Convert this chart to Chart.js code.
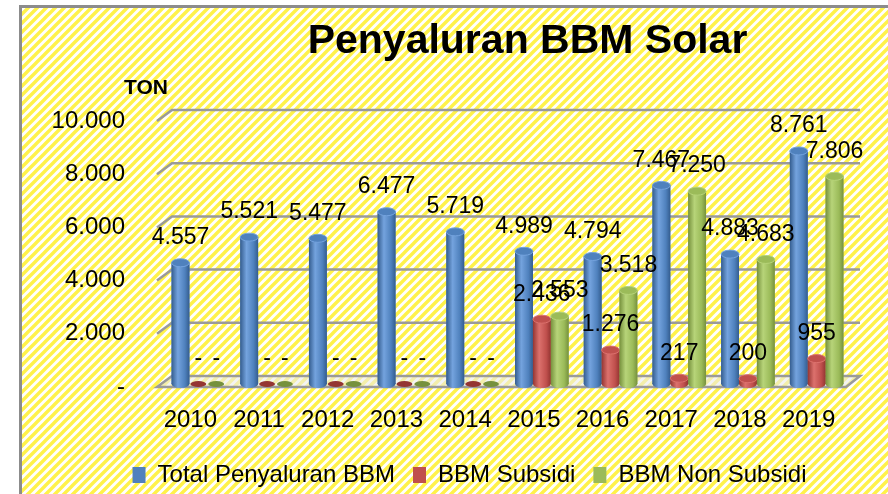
<!DOCTYPE html>
<html>
<head>
<meta charset="utf-8">
<script src="https://cdn.jsdelivr.net/npm/chart.js@4.4.1/dist/chart.umd.min.js"></script>
<style>
  html, body { margin: 0; padding: 0; background: #fff; }
  #wrap { width: 888px; height: 494px; }
</style>
</head>
<body>
<div id="wrap"><canvas id="bbmChart" width="888" height="494"></canvas></div>
<script>
const years = ['2010', '2011', '2012', '2013', '2014', '2015', '2016', '2017', '2018', '2019'];
const totalPenyaluran = [4557, 5521, 5477, 6477, 5719, 4989, 4794, 7467, 4883, 8761];
const bbmSubsidi = [0, 0, 0, 0, 0, 2436, 1276, 217, 200, 955];
const bbmNonSubsidi = [0, 0, 0, 0, 0, 2553, 3518, 7250, 4683, 7806];
const seriesNames = ['Total Penyaluran BBM', 'BBM Subsidi', 'BBM Non Subsidi'];
const yMax = 10000;
const yStep = 2000;

// base, dark edge, highlight
const barColors = [
    ['#4f81bd', '#345d8f', '#74a3de'],
    ['#c0504d', '#943532', '#dc716d'],
    ['#9bbb59', '#76913d', '#b7d479']
];

const FONT = "'Liberation Sans', Arial, sans-serif";

function fmt(v) {
    if (v === 0) return '-';
    return String(v).replace(/\B(?=(\d{3})+(?!\d))/g, '.');
}

function makeStripes(ctx) {
    const tile = document.createElement('canvas');
    tile.width = 9;
    tile.height = 9;
    const t = tile.getContext('2d');
    t.fillStyle = '#ffffff';
    t.fillRect(0, 0, 9, 9);
    t.strokeStyle = '#fff24a';
    t.lineWidth = 3.4;
    t.beginPath();
    t.moveTo(-2, 11); t.lineTo(11, -2);
    t.moveTo(-2, 2); t.lineTo(2, -2);
    t.moveTo(7, 11); t.lineTo(11, 7);
    t.stroke();
    return ctx.createPattern(tile, 'repeat');
}

const backgroundPlugin = {
    id: 'stripedBackground',
    afterLayout(chart) {
        // let the y tick labels reach past the left padding without clipping
        chart.scales.y.left = 30;
    },
    beforeDraw(chart) {
        const ctx = chart.ctx;
        ctx.save();
        ctx.fillStyle = '#ffffff';
        ctx.fillRect(0, 0, chart.width, chart.height);
        ctx.fillStyle = makeStripes(ctx);
        ctx.fillRect(19, 5, chart.width - 19, chart.height - 5);
        ctx.strokeStyle = '#8c8c8c';
        ctx.lineWidth = 3;
        ctx.beginPath();
        ctx.moveTo(20.5, chart.height);
        ctx.lineTo(20.5, 6.5);
        ctx.lineTo(chart.width, 6.5);
        ctx.stroke();
        ctx.restore();
    }
};

// back wall gridlines + floor, from the y scale
const wallPlugin = {
    id: 'wall3d',
    beforeDatasetsDraw(chart) {
        const ctx = chart.ctx;
        const area = chart.chartArea;
        const y = chart.scales.y;
        const base = y.getPixelForValue(0);
        ctx.save();
        ctx.strokeStyle = '#9a9a9a';
        ctx.lineWidth = 2.5;
        for (let v = yStep; v <= yMax; v += yStep) {
            const yb = y.getPixelForValue(v) - 8;
            ctx.beginPath();
            ctx.moveTo(area.left - 7, yb + 11);
            ctx.lineTo(area.left + 8, yb);
            ctx.lineTo(area.right + 9, yb);
            ctx.stroke();
        }
        ctx.beginPath();
        ctx.moveTo(area.left - 7, base + 3);
        ctx.lineTo(area.left + 8, base - 8);
        ctx.lineTo(area.right + 9, base - 8);
        ctx.lineTo(area.right - 5, base + 3);
        ctx.closePath();
        ctx.fillStyle = 'rgba(235,235,235,0.6)';
        ctx.fill();
        ctx.stroke();
        ctx.restore();
    }
};

const cylinderPlugin = {
    id: 'cylinders',
    afterDatasetsDraw(chart) {
        const ctx = chart.ctx;
        ctx.save();
        chart.data.datasets.forEach((ds, di) => {
            const meta = chart.getDatasetMeta(di);
            const [mid, dark, light] = barColors[di];
            meta.data.forEach(bar => {
                const p = bar.getProps(['x', 'y', 'base', 'width'], true);
                const x0 = p.x - p.width / 2;
                const x1 = p.x + p.width / 2;
                const g = ctx.createLinearGradient(x0, 0, x1, 0);
                g.addColorStop(0, dark);
                g.addColorStop(0.35, light);
                g.addColorStop(0.75, mid);
                g.addColorStop(1, dark);
                if (p.base - p.y > 1) {
                    ctx.fillStyle = g;
                    ctx.fillRect(x0, p.y, p.width, p.base - p.y);
                    ctx.beginPath();
                    ctx.ellipse(p.x, p.base, p.width / 2, 4, 0, 0, Math.PI * 2);
                    ctx.fill();
                    ctx.beginPath();
                    ctx.ellipse(p.x, p.y, p.width / 2, 4, 0, 0, Math.PI * 2);
                    ctx.fillStyle = mid;
                    ctx.fill();
                    ctx.strokeStyle = light;
                    ctx.lineWidth = 1;
                    ctx.stroke();
                } else {
                    ctx.beginPath();
                    ctx.ellipse(p.x, p.base, p.width / 2 - 1, 3, 0, 0, Math.PI * 2);
                    ctx.fillStyle = dark;
                    ctx.fill();
                }
            });
        });
        // value labels above each cylinder
        ctx.fillStyle = '#000';
        ctx.font = '23px ' + FONT;
        ctx.textAlign = 'center';
        ctx.textBaseline = 'middle';
        chart.data.datasets.forEach((ds, di) => {
            const meta = chart.getDatasetMeta(di);
            meta.data.forEach((bar, i) => {
                const p = bar.getProps(['x', 'y'], true);
                ctx.fillText(fmt(ds.data[i]), p.x, p.y - 25);
            });
        });
        ctx.restore();
    }
};

const headingPlugin = {
    id: 'heading',
    afterDraw(chart) {
        const ctx = chart.ctx;
        const area = chart.chartArea;
        ctx.save();
        ctx.fillStyle = '#000';
        ctx.textAlign = 'center';
        ctx.textBaseline = 'middle';
        ctx.font = 'bold 41px ' + FONT;
        ctx.fillText('Penyaluran BBM Solar', (area.left + area.right) / 2 + 20, 42);
        ctx.font = 'bold 21px ' + FONT;
        ctx.fillText('TON', area.left - 18, 88);
        ctx.restore();
    }
};

const ctx = document.getElementById('bbmChart').getContext('2d');
new Chart(ctx, {
    type: 'bar',
    data: {
        labels: years,
        datasets: [
            { label: seriesNames[0], data: totalPenyaluran, backgroundColor: barColors[0][0], borderWidth: 0 },
            { label: seriesNames[1], data: bbmSubsidi, backgroundColor: barColors[1][0], borderWidth: 0 },
            { label: seriesNames[2], data: bbmNonSubsidi, backgroundColor: barColors[2][0], borderWidth: 0 }
        ]
    },
    options: {
        responsive: false,
        animation: false,
        layout: { padding: { left: 88, right: 37, top: 118, bottom: -3 } },
        datasets: {
            bar: { categoryPercentage: 0.78, barPercentage: 1.0 }
        },
        scales: {
            x: {
                grid: { display: false, drawTicks: false },
                border: { display: false },
                ticks: {
                    color: '#000',
                    font: { family: FONT, size: 24 },
                    padding: 22,
                    labelOffset: -8
                },
                afterFit(scale) { scale.height = 61; }
            },
            y: {
                min: 0,
                max: yMax,
                grid: { display: false, drawTicks: false },
                border: { display: false },
                ticks: {
                    stepSize: yStep,
                    color: '#000',
                    font: { family: FONT, size: 24 },
                    padding: 39,
                    labelOffset: 3,
                    callback: v => fmt(v)
                },
                afterFit(scale) { scale.width = 76; }
            }
        },
        plugins: {
            title: { display: false },
            tooltip: { enabled: false },
            legend: {
                position: 'bottom',
                labels: {
                    color: '#000',
                    boxWidth: 13,
                    boxHeight: 16,
                    padding: 18,
                    font: { family: FONT, size: 24 }
                }
            }
        }
    },
    plugins: [backgroundPlugin, wallPlugin, cylinderPlugin, headingPlugin]
});
</script>
</body>
</html>
